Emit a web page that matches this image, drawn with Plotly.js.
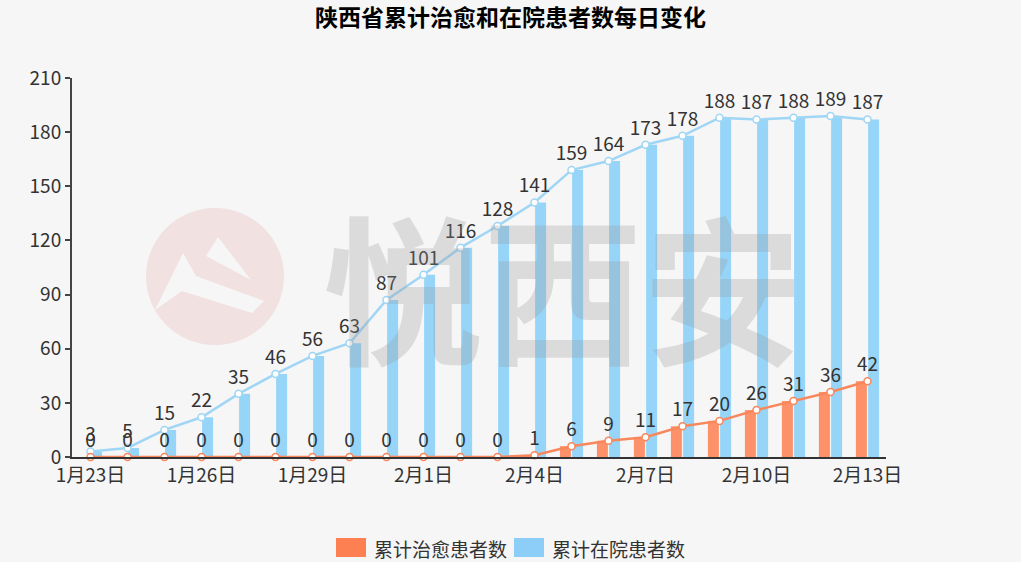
<!DOCTYPE html>
<html>
<head>
<meta charset="utf-8">
<script src="https://cdn.plot.ly/plotly-3.0.1.min.js"></script>
<style>
  html, body { margin: 0; padding: 0; background: #f6f6f6; }
  #chart { width: 1021px; height: 562px; }
</style>
</head>
<body>
<div id="chart"></div>
<script>
const dates = ['1月23日', '1月24日', '1月25日', '1月26日', '1月27日', '1月28日', '1月29日', '1月30日', '1月31日',
  '2月1日', '2月2日', '2月3日', '2月4日', '2月5日', '2月6日', '2月7日', '2月8日', '2月9日', '2月10日',
  '2月11日', '2月12日', '2月13日'];
const cured = [0, 0, 0, 0, 0, 0, 0, 0, 0, 0, 0, 0, 1, 6, 9, 11, 17, 20, 26, 31, 36, 42];
const inHospital = [3, 5, 15, 22, 35, 46, 56, 63, 87, 101, 116, 128, 141, 159, 164, 173, 178, 188, 187, 188, 189, 187];
const yTicks = [0, 30, 60, 90, 120, 150, 180, 210];
const seriesNames = ['累计治愈患者数', '累计在院患者数'];

const orangeBar = 'rgb(253,146,106)';
const orangeLine = 'rgb(249,135,92)';
const blueBar = 'rgb(150,213,248)';
const blueLine = 'rgb(160,214,245)';
const font = '"Noto Sans CJK SC", "Noto Sans", sans-serif';

// plot area in pixels, used to place the watermark and legend
const L = 72, R = 886, T = 78, B = 457;
function px(x, y) {
  return [(x - L) / (R - L), (B - y) / (B - T)];
}
function pathFrom(points) {
  return points.map((p, i) => {
    const q = px(p[0], p[1]);
    return (i ? 'L' : 'M') + q[0].toFixed(4) + ',' + q[1].toFixed(4);
  }).join(' ') + ' Z';
}

function barTrace(name, values, color) {
  return {
    type: 'bar', name: name, x: dates, y: values,
    marker: { color: color },
    showlegend: false, hoverinfo: 'skip'
  };
}
function lineTrace(name, values, color) {
  return {
    type: 'scatter', mode: 'lines+markers+text', name: name,
    x: dates, y: values,
    text: values.map(String), textposition: 'top center',
    textfont: { family: font, size: 19, color: '#333' },
    line: { color: color, width: 2.5 },
    marker: { size: 7, color: '#fff', line: { color: color, width: 1.5 } },
    showlegend: false, cliponaxis: false
  };
}

const traces = [
  barTrace(seriesNames[0], cured, orangeBar),
  barTrace(seriesNames[1], inHospital, blueBar),
  lineTrace(seriesNames[1], inHospital, blueLine),
  lineTrace(seriesNames[0], cured, orangeLine)
];

const labelDates = dates.filter((d, i) => i % 3 === 0);
const tickBounds = dates.map((d, i) => i + 1.5).filter((v, i) => i % 3 === 1 && v < dates.length - 1);

const c0 = px(146, 345), c1 = px(284, 208);

// hand-made legend (wide swatches like the reference)
const legendItems = [
  { name: seriesNames[0], color: 'rgb(252,128,82)', x: 337 },
  { name: seriesNames[1], color: 'rgb(140,206,248)', x: 515 }
];
const legendShapes = legendItems.map(it => {
  const a = px(it.x, 556), b = px(it.x + 28, 539);
  return {
    type: 'rect', xref: 'paper', yref: 'paper',
    x0: a[0], y0: a[1], x1: b[0], y1: b[1],
    fillcolor: it.color, line: { color: it.color, width: 2 }
  };
});
const legendTexts = legendItems.map(it => {
  const p = px(it.x + 35, 548);
  return {
    text: it.name, xref: 'paper', yref: 'paper', x: p[0], y: p[1],
    xanchor: 'left', yanchor: 'middle', showarrow: false,
    font: { family: font, size: 19, color: '#333' }
  };
});

const layout = {
  width: 1021, height: 562,
  paper_bgcolor: '#f6f6f6', plot_bgcolor: 'rgba(0,0,0,0)',
  margin: { l: L, r: 1021 - R, t: T, b: 562 - B, autoexpand: false },
  font: { family: font, color: '#333' },
  showlegend: false,
  title: {
    text: '<b>陕西省累计治愈和在院患者数每日变化</b>',
    x: 0.5, xref: 'container', y: 0.968, yref: 'container', yanchor: 'middle',
    font: { family: font, size: 23, color: '#000' }
  },
  barmode: 'group', bargap: 0.34, bargroupgap: 0.1,
  xaxis: {
    type: 'category', range: [-0.5, dates.length - 0.5],
    tickvals: labelDates, ticktext: labelDates, ticks: '',
    showline: true, linecolor: '#333', linewidth: 2,
    showgrid: false, zeroline: false, automargin: false,
    tickfont: { family: font, size: 19, color: '#333' }
  },
  xaxis2: {
    overlaying: 'x', anchor: 'y', type: 'linear', side: 'bottom',
    range: [-0.5, dates.length - 0.5],
    tickvals: tickBounds, ticks: 'outside', ticklen: 5, tickwidth: 2, tickcolor: '#333',
    showticklabels: false, showgrid: false, zeroline: false, showline: false
  },
  yaxis: {
    range: [0, 210], tickvals: yTicks,
    showline: true, linecolor: '#444', linewidth: 2,
    ticks: 'outside', ticklen: 5, tickwidth: 2, tickcolor: '#444',
    showgrid: false, zeroline: false, automargin: false,
    tickfont: { family: font, size: 19, color: '#333' }
  },
  shapes: [
    {
      type: 'circle', xref: 'paper', yref: 'paper', layer: 'below',
      x0: c0[0], y0: c0[1], x1: c1[0], y1: c1[1],
      fillcolor: 'rgba(235,200,200,0.45)', line: { width: 0 }
    },
    {
      type: 'path', xref: 'paper', yref: 'paper', layer: 'below',
      path: pathFrom([[218, 237], [206, 256], [251, 280]]),
      fillcolor: '#f6f6f6', line: { width: 0 }
    },
    {
      type: 'path', xref: 'paper', yref: 'paper', layer: 'below',
      path: pathFrom([[183, 253], [155, 310], [182, 291], [252, 313], [264, 301], [196, 276]]),
      fillcolor: '#f6f6f6', line: { width: 0 }
    }
  ].concat(legendShapes),
  annotations: [{
    text: '<b>悦西安</b>', xref: 'paper', yref: 'paper',
    x: px(563, 283)[0], y: px(563, 283)[1],
    xanchor: 'center', yanchor: 'middle', showarrow: false,
    font: { family: font, size: 160, color: 'rgba(150,150,150,0.28)' }
  }].concat(legendTexts)
};

Plotly.newPlot('chart', traces, layout, { displayModeBar: false, staticPlot: true });
</script>
</body>
</html>
